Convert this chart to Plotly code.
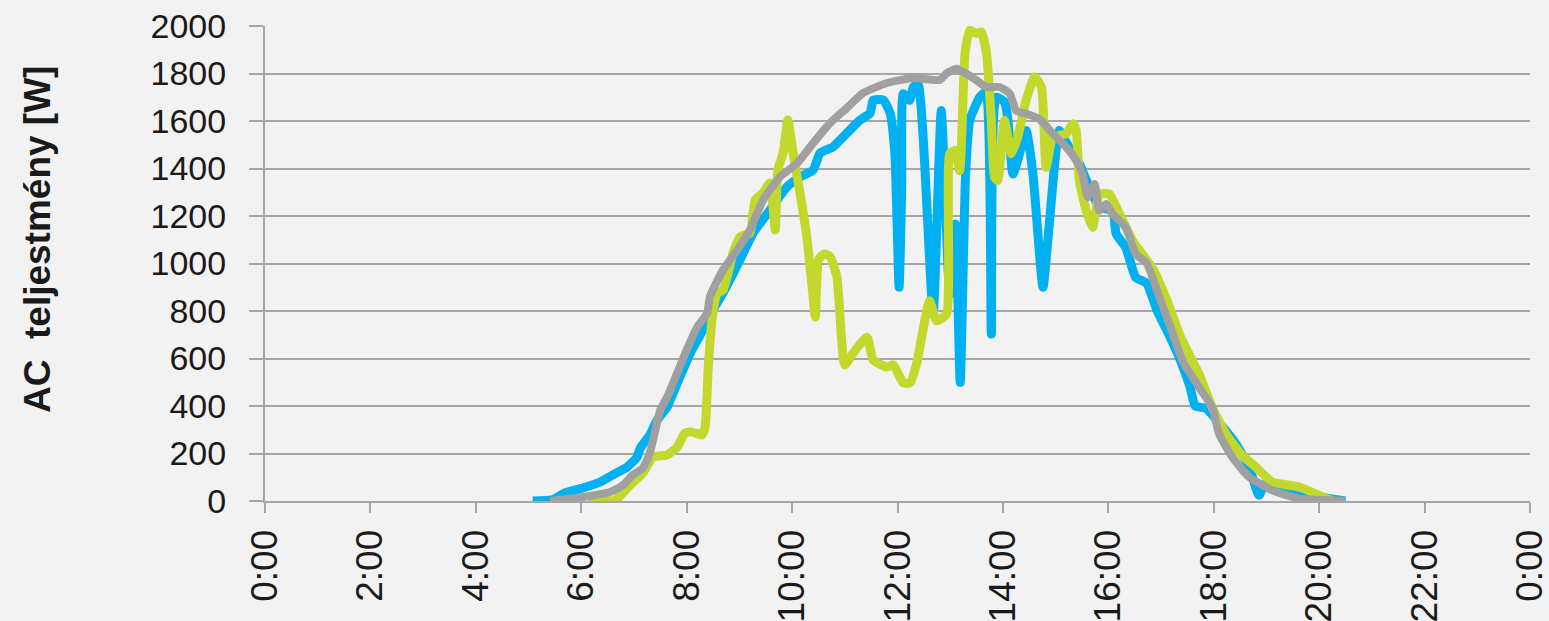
import plotly.graph_objects as go

# --- data (hours of day, AC power in W) ---
blue_t = [5.08, 5.45, 5.69, 6.03, 6.36, 6.6, 6.87, 7.06, 7.12, 7.3, 7.44, 7.63, 7.87, 8.1, 8.31, 8.5,
          8.69, 9.01, 9.26, 9.58, 9.9, 10.15, 10.4, 10.53, 10.78, 11.04, 11.29, 11.48, 11.54, 11.73,
          11.86, 11.95, 12.03, 12.08, 12.11, 12.23, 12.3, 12.39, 12.675, 12.83, 12.99, 13.1, 13.19,
          13.29, 13.37, 13.56, 13.68, 13.78, 13.87, 14.03, 14.09, 14.19, 14.28, 14.44, 14.57, 14.76,
          14.88, 15.07, 15.2, 15.45, 15.64, 15.83, 16.08, 16.15, 16.33, 16.52, 16.73, 16.92, 17.17,
          17.37, 17.55, 17.65, 17.85, 18.1, 18.42, 18.67, 18.86, 18.98, 19.36, 19.99, 20.5]
blue_w = [0, 5, 34, 55, 80, 110, 143, 185, 223, 278, 341, 396, 522, 636, 720, 804,
          876, 1015, 1128, 1225, 1322, 1364, 1394, 1465, 1491, 1549, 1604, 1633, 1688, 1688,
          1633, 1462, 900, 1321, 1715, 1687, 1743, 1757, 787, 1644, 871, 1166, 499,
          1363, 1602, 1700, 1722, 703, 1700, 1680, 1616, 1377, 1434, 1560, 1377, 900,
          1166, 1560, 1510, 1420, 1321, 1237, 1223, 1124, 1068, 942, 916, 804, 691,
          590, 480, 400, 390, 330, 241, 143, 24, 73, 38, 17, 0]

green_t = [6.13, 6.64, 6.93, 7.17, 7.36, 7.63, 7.82, 7.97, 8.1, 8.29, 8.35, 8.41, 8.48, 8.54, 8.58,
           8.69, 8.88, 9.01, 9.2, 9.3, 9.45, 9.58, 9.68, 9.73, 9.83, 9.92, 10.02, 10.15, 10.28,
           10.38, 10.44, 10.5, 10.6, 10.72, 10.85, 11.0, 11.16, 11.42, 11.54, 11.8, 11.92, 12.11,
           12.24, 12.36, 12.61, 12.74, 12.93, 12.99, 13.09, 13.18, 13.28, 13.37, 13.5, 13.59, 13.69,
           13.78, 13.84, 13.9, 14.03, 14.16, 14.28, 14.44, 14.6, 14.73, 14.82, 14.95, 15.2, 15.33,
           15.39, 15.45, 15.58, 15.7, 15.83, 15.91, 16.02, 16.21, 16.46, 16.54, 16.86, 17.11, 17.37,
           17.62, 17.72, 17.97, 18.23, 18.54, 18.8, 19.11, 19.62, 20.0, 20.25]
green_w = [0, 4, 67, 118, 185, 194, 227, 286, 290, 278, 312, 565, 762, 846, 876,
           888, 1044, 1112, 1128, 1267, 1297, 1339, 1141, 1394, 1465, 1604, 1465, 1297, 1112,
           901, 775, 1015, 1040, 1030, 943, 573, 623, 690, 594, 564, 573, 497,
           497, 576, 843, 759, 787, 1462, 1476, 1391, 1883, 1982, 1968, 1975, 1883,
           1602, 1363, 1349, 1602, 1462, 1532, 1687, 1785, 1743, 1405, 1532, 1546, 1588,
           1560, 1349, 1223, 1152, 1293, 1295, 1293, 1209, 1096, 1070, 972, 846, 691,
           579, 535, 395, 283, 192, 143, 80, 59, 24, 0]

gray_t = [5.41, 6.03, 6.55, 6.79, 6.98, 7.17, 7.3, 7.5, 7.63, 7.82, 8.0, 8.2, 8.39, 8.44, 8.69, 8.96,
          9.2, 9.45, 9.77, 10.1, 10.4, 10.72, 11.04, 11.35, 11.8, 12.3, 12.8, 12.94, 13.12, 13.31,
          13.5, 13.69, 13.94, 14.13, 14.25, 14.44, 14.69, 14.95, 15.2, 15.39, 15.51, 15.61, 15.74,
          15.83, 15.96, 16.08, 16.33, 16.52, 16.73, 16.95, 17.2, 17.42, 17.72, 17.97, 18.1, 18.35,
          18.67, 19.11, 19.62, 20.25, 20.5]
gray_w = [0, 17, 38, 67, 110, 139, 202, 383, 438, 539, 636, 733, 792, 860, 973, 1057,
          1141, 1267, 1364, 1423, 1507, 1591, 1655, 1718, 1760, 1781, 1773, 1802, 1820, 1799,
          1771, 1743, 1743, 1715, 1644, 1630, 1609, 1546, 1490, 1434, 1377, 1279, 1335,
          1223, 1251, 1209, 1152, 1040, 1000, 870, 720, 585, 479, 395, 283, 185,
          101, 45, 10, 3, 0]

x_tickvals = [0, 2, 4, 6, 8, 10, 12, 14, 16, 18, 20, 22, 24]
x_ticktext = ["0:00", "2:00", "4:00", "6:00", "8:00", "10:00", "12:00", "14:00",
              "16:00", "18:00", "20:00", "22:00", "0:00"]
y_tickvals = list(range(0, 2001, 200))
y_title = "AC  teljestmény [W]"

FONT = "Liberation Sans, Arial, sans-serif"
GRID = "#A6A6A6"
BG = "#F2F2F2"

fig = go.Figure()
for t, w, col, lw in [(blue_t, blue_w, "#00B0F0", 9),
                      (green_t, green_w, "#C3D82C", 9),
                      (gray_t, gray_w, "#A0A0A0", 8)]:
    fig.add_trace(go.Scatter(x=t, y=w, mode="lines",
                             line=dict(color=col, width=lw, shape="spline", smoothing=0.5),
                             showlegend=False, hoverinfo="skip"))

fig.update_layout(
    template="none",
    width=1549, height=621,
    margin=dict(l=265, r=19, t=26, b=120, autoexpand=False),
    paper_bgcolor=BG, plot_bgcolor=BG,
    font=dict(family=FONT, color="#1A1A1A"),
    xaxis=dict(range=[0, 24], tickvals=x_tickvals, ticktext=x_ticktext, tickangle=-90,
               showgrid=False, zeroline=False, showline=True, linecolor=GRID, linewidth=2,
               ticks="outside", ticklen=10, tickwidth=2, tickcolor=GRID, automargin=False,
               ticklabeloverflow="allow",
               tickfont=dict(size=37, family=FONT, color="#1A1A1A"), ticklabelstandoff=2),
    yaxis=dict(range=[0, 2000], tickvals=y_tickvals, showgrid=True, gridcolor=GRID, gridwidth=2,
               zeroline=False, showline=True, linecolor=GRID, linewidth=2, automargin=False,
               ticks="outside", ticklen=14, tickwidth=2, tickcolor=GRID,
               tickfont=dict(size=34, family=FONT, color="#1A1A1A"), ticklabelstandoff=16),
)
fig.add_annotation(text=y_title, xref="paper", yref="paper", x=(37 - 265) / 1265, y=(501 - 240) / 475,
                   showarrow=False, textangle=-90, xanchor="center", yanchor="middle",
                   font=dict(size=37, family=FONT, color="#1A1A1A", weight="bold"))

fig.write_html("out.html", config={"displayModeBar": False, "staticPlot": True},
               post_script="document.body.style.margin='0';document.body.style.background='#F2F2F2';"
                           "document.documentElement.style.overflow='hidden';")
